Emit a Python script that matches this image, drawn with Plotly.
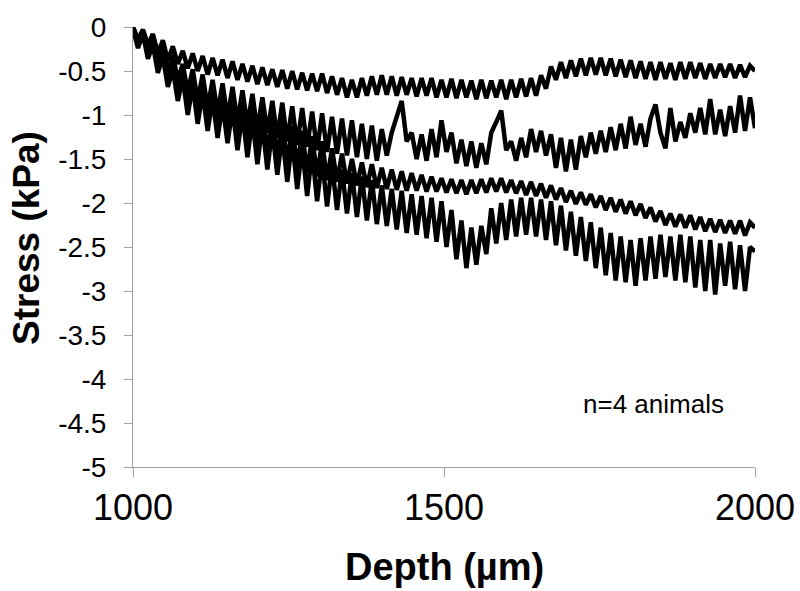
import plotly.graph_objects as go

depth = list(range(1000, 2001, 8))

stress_a = [
    0.0, -0.14, -0.03, -0.2, -0.08, -0.3, -0.15, -0.38, -0.22, -0.42,
    -0.27, -0.47, -0.3, -0.5, -0.33, -0.54, -0.35, -0.55, -0.37, -0.58,
    -0.39, -0.6, -0.42, -0.62, -0.44, -0.65, -0.46, -0.66, -0.48, -0.68,
    -0.49, -0.7, -0.5, -0.71, -0.52, -0.72, -0.53, -0.73, -0.53, -0.75,
    -0.56, -0.77, -0.58, -0.8, -0.6, -0.8, -0.58, -0.78, -0.56, -0.77,
    -0.55, -0.77, -0.56, -0.78, -0.57, -0.77, -0.58, -0.79, -0.58, -0.78,
    -0.58, -0.8, -0.6, -0.8, -0.59, -0.81, -0.6, -0.8, -0.61, -0.82,
    -0.6, -0.81, -0.61, -0.8, -0.6, -0.82, -0.6, -0.8, -0.59, -0.79,
    -0.58, -0.78, -0.55, -0.7, -0.45, -0.6, -0.4, -0.58, -0.38, -0.56,
    -0.36, -0.55, -0.35, -0.54, -0.35, -0.55, -0.36, -0.56, -0.37, -0.57,
    -0.38, -0.58, -0.39, -0.59, -0.4, -0.6, -0.4, -0.59, -0.41, -0.6,
    -0.4, -0.59, -0.4, -0.58, -0.41, -0.59, -0.42, -0.58, -0.42, -0.57,
    -0.42, -0.58, -0.43, -0.57, -0.44, -0.5,
]

stress_b = [
    0.0, -0.16, -0.04, -0.26, -0.12, -0.38, -0.22, -0.5, -0.32, -0.6,
    -0.42, -0.74, -0.48, -0.84, -0.54, -0.92, -0.6, -0.98, -0.64, -1.04,
    -0.68, -1.08, -0.72, -1.12, -0.76, -1.18, -0.8, -1.2, -0.84, -1.26,
    -0.86, -1.3, -0.9, -1.34, -0.92, -1.36, -0.96, -1.4, -0.98, -1.42,
    -1.02, -1.44, -1.04, -1.46, -1.06, -1.48, -1.1, -1.5, -1.12, -1.52,
    -1.16, -1.46, -1.2, -1.02, -0.84, -1.3, -1.2, -1.5, -1.22, -1.52,
    -1.16, -1.48, -1.06, -1.42, -1.2, -1.55, -1.28, -1.58, -1.3, -1.6,
    -1.32, -1.56, -1.2, -1.08, -0.95, -1.4, -1.3, -1.52, -1.26, -1.48,
    -1.16, -1.42, -1.18, -1.46, -1.22, -1.6, -1.26, -1.64, -1.28, -1.62,
    -1.24, -1.48, -1.2, -1.44, -1.18, -1.42, -1.14, -1.4, -1.1, -1.38,
    -1.02, -1.34, -1.1, -1.36, -1.04, -0.88, -1.2, -1.38, -0.92, -1.3,
    -1.08, -1.26, -0.98, -1.2, -0.92, -1.22, -0.82, -1.22, -0.94, -1.24,
    -0.9, -1.2, -0.78, -1.18, -0.8, -1.15,
]

stress_c = [
    -0.02, -0.2, -0.06, -0.3, -0.16, -0.44, -0.28, -0.58, -0.4, -0.7,
    -0.5, -0.9, -0.6, -1.0, -0.66, -1.08, -0.72, -1.14, -0.76, -1.2,
    -0.8, -1.26, -0.86, -1.32, -0.9, -1.38, -0.96, -1.44, -1.0, -1.5,
    -1.06, -1.56, -1.12, -1.6, -1.18, -1.66, -1.24, -1.7, -1.3, -1.74,
    -1.38, -1.76, -1.44, -1.78, -1.5, -1.8, -1.54, -1.82, -1.56, -1.83,
    -1.6, -1.84, -1.62, -1.85, -1.64, -1.86, -1.66, -1.86, -1.68, -1.87,
    -1.7, -1.87, -1.72, -1.88, -1.73, -1.89, -1.74, -1.9, -1.74, -1.89,
    -1.73, -1.88, -1.72, -1.87, -1.72, -1.88, -1.74, -1.89, -1.75, -1.91,
    -1.76, -1.92, -1.78, -1.94, -1.8, -1.96, -1.83, -1.99, -1.86, -2.01,
    -1.88, -2.02, -1.9, -2.05, -1.92, -2.08, -1.94, -2.1, -1.96, -2.12,
    -1.98, -2.14, -2.01, -2.17, -2.05, -2.21, -2.09, -2.25, -2.12, -2.27,
    -2.13, -2.28, -2.14, -2.3, -2.16, -2.32, -2.18, -2.33, -2.19, -2.34,
    -2.2, -2.35, -2.2, -2.37, -2.22, -2.28,
]

stress_d = [
    -0.02, -0.24, -0.08, -0.36, -0.2, -0.52, -0.34, -0.68, -0.48, -0.84,
    -0.58, -1.0, -0.66, -1.1, -0.74, -1.18, -0.82, -1.26, -0.88, -1.32,
    -0.92, -1.4, -0.98, -1.48, -1.04, -1.56, -1.1, -1.62, -1.16, -1.68,
    -1.22, -1.76, -1.28, -1.84, -1.36, -1.92, -1.42, -1.98, -1.5, -2.04,
    -1.56, -2.08, -1.62, -2.12, -1.66, -2.16, -1.7, -2.2, -1.74, -2.24,
    -1.8, -2.26, -1.84, -2.3, -1.86, -2.34, -1.9, -2.36, -1.92, -2.4,
    -1.94, -2.44, -1.98, -2.5, -2.08, -2.64, -2.2, -2.74, -2.28, -2.7,
    -2.26, -2.58, -2.06, -2.46, -2.0, -2.42, -1.96, -2.38, -1.94, -2.36,
    -1.94, -2.38, -1.96, -2.42, -1.98, -2.48, -2.03, -2.54, -2.1, -2.6,
    -2.16, -2.66, -2.22, -2.74, -2.28, -2.82, -2.34, -2.88, -2.38, -2.9,
    -2.42, -2.94, -2.4, -2.88, -2.38, -2.86, -2.36, -2.84, -2.38, -2.88,
    -2.36, -2.9, -2.38, -2.96, -2.42, -3.0, -2.42, -3.04, -2.46, -2.94,
    -2.44, -2.98, -2.48, -3.0, -2.5, -2.55,
]

x_ticks = [1000, 1500, 2000]
y_ticks = [0, -0.5, -1, -1.5, -2, -2.5, -3, -3.5, -4, -4.5, -5]
y_tick_text = ["0", "-0.5", "-1", "-1.5", "-2", "-2.5", "-3", "-3.5", "-4", "-4.5", "-5"]

FONT = "Liberation Sans, Arial, sans-serif"

fig = go.Figure()
for s in (stress_a, stress_b, stress_c, stress_d):
    n = min(len(depth), len(s))
    fig.add_trace(go.Scatter(x=depth[:n], y=s[:n], mode="lines",
                             line=dict(color="#000000", width=4.5),
                             showlegend=False))

fig.update_layout(
    width=800, height=591,
    margin=dict(l=133, r=45, t=27, b=124, autoexpand=False),
    paper_bgcolor="white", plot_bgcolor="white",
    font=dict(family=FONT, color="black"),
    xaxis=dict(range=[1000, 2000], tickvals=x_ticks, ticks="outside",
               ticklen=9, tickcolor="#a0a0a0", showline=True,
               linecolor="#a0a0a0", linewidth=1, showgrid=False,
               zeroline=False, automargin=False,
               tickfont=dict(size=36, family=FONT)),
    yaxis=dict(range=[-5, 0], tickvals=y_ticks, ticktext=y_tick_text,
               ticks="outside", ticklen=8, tickcolor="#a0a0a0",
               showline=True, linecolor="#a0a0a0", linewidth=1,
               showgrid=False, zeroline=False, ticklabelstandoff=12,
               automargin=False, tickfont=dict(size=28, family=FONT)),
    annotations=[
        dict(text="<b>Depth (µm)</b>", xref="paper", yref="paper",
             x=0.5, y=0, xanchor="center", yanchor="middle", yshift=-100,
             showarrow=False, font=dict(size=38, family=FONT)),
        dict(text="<b>Stress (kPa)</b>", xref="paper", yref="paper",
             x=0, y=0.5, xanchor="center", yanchor="middle", xshift=-107,
             yshift=9, textangle=-90, showarrow=False,
             font=dict(size=37, family=FONT)),
        dict(text="n=4 animals", xref="x", yref="y", x=1837, y=-4.28,
             xanchor="center", yanchor="middle", showarrow=False,
             font=dict(size=26, family=FONT)),
    ],
)

fig.write_html(
    "out.html",
    config={"displayModeBar": False},
    post_script="document.body.style.margin='0';document.body.style.overflow='hidden';",
)
